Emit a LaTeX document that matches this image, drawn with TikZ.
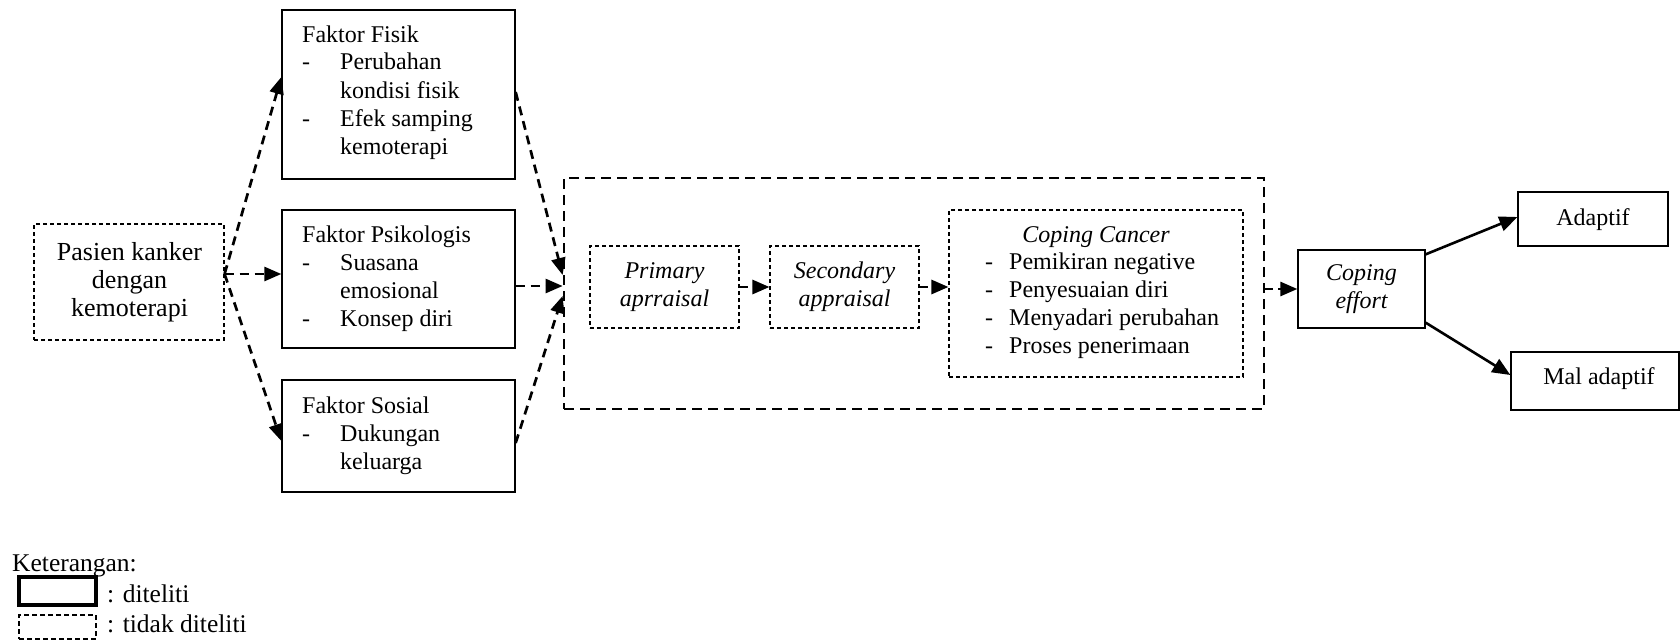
\documentclass[tikz,border=0pt]{standalone}
\usepackage{fontspec}
\setmainfont{Liberation Serif}
\usetikzlibrary{arrows.meta,fit,calc}
\begin{document}
\begin{tikzpicture}[x=1pt,y=-1pt,
  sbox/.style={draw, line width=1.3pt, inner sep=0pt},
  dbox/.style={draw, line width=1.1pt, dash pattern=on 4pt off 3pt, inner sep=0pt},
  bigbox/.style={draw, line width=2.8pt, dash pattern=on 10pt off 6pt, inner sep=0pt},
  txt/.style={font=\fontsize{24}{28}\selectfont, inner sep=0pt},
  itxt/.style={font=\fontsize{24}{28}\selectfont\itshape, inner sep=0pt},
  ltxt/.style={font=\fontsize{25.5}{30}\selectfont, inner sep=0pt},
  conn/.style={line width=2.7pt, dash pattern=on 9pt off 6pt, -{Triangle[length=17pt,width=14pt]}},
  sconn/.style={line width=2.6pt, -{Triangle[length=18pt,width=15pt]}},
]
\useasboundingbox (0,0) rectangle (1680,642);

% left column
\node[dbox, fit={(34,224) (224,340)}] (pasien) {};
\node[txt, font=\fontsize{26}{28}\selectfont, anchor=base] (pasientext) at (129.5,260) {\begin{tabular}[t]{@{}c@{}}Pasien kanker\\dengan\\kemoterapi\end{tabular}};

\node[sbox, fit={(282,10) (515,179)}] (fisik) {};
\node[txt, anchor=base west] (fisiktext) at (302,42) {\begin{tabular}[t]{@{}p{38pt}@{}l@{}}\multicolumn{2}{@{}l@{}}{Faktor Fisik}\\ - & Perubahan\\ & kondisi fisik\\ - & Efek samping\\ & kemoterapi\end{tabular}};

\node[sbox, fit={(282,210) (515,348)}] (psik) {};
\node[txt, anchor=base west] (psiktext) at (302,242) {\begin{tabular}[t]{@{}p{38pt}@{}l@{}}\multicolumn{2}{@{}l@{}}{Faktor Psikologis}\\ - & Suasana\\ & emosional\\ - & Konsep diri\end{tabular}};

\node[sbox, fit={(282,380) (515,492)}] (sosial) {};
\node[txt, anchor=base west] (sosialtext) at (302,413) {\begin{tabular}[t]{@{}p{38pt}@{}l@{}}\multicolumn{2}{@{}l@{}}{Faktor Sosial}\\ - & Dukungan\\ & keluarga\end{tabular}};

% middle group
\node[bigbox, fit={(564,178) (1264,409)}] (big) {};
\node[dbox, fit={(590,246) (739,328)}] (primary) {};
\node[itxt, align=center] (primarytext) at (primary.center) {Primary\\aprraisal};
\node[dbox, fit={(770,246) (919,328)}] (secondary) {};
\node[itxt, align=center] (secondarytext) at (secondary.center) {Secondary\\appraisal};
\node[dbox, fit={(949,210) (1243,377)}] (cancer) {};
\node[itxt, anchor=base] (cancertitle) at (1096,242) {Coping Cancer};
\node[txt, anchor=base west] (cancerlist) at (985,269) {\begin{tabular}[t]{@{}p{24pt}@{}l@{}} - & Pemikiran negative\\ - & Penyesuaian diri\\ - & Menyadari perubahan\\ - & Proses penerimaan\end{tabular}};

% right column
\node[sbox, fit={(1298,250) (1425,328)}] (effort) {};
\node[itxt, align=center] (efforttext) at (effort.center) {Coping\\effort};
\node[sbox, fit={(1518,192) (1668,246)}] (adaptif) {};
\node[txt, anchor=base] (adaptiftext) at (1593,225) {Adaptif};
\node[sbox, fit={(1511,352) (1679,410)}] (mal) {};
\node[txt, anchor=base] (maltext) at (1599,384) {Mal adaptif};

% connectors
\coordinate (ps) at ($(pasien.east)+(0,-8)$);
\draw[conn] (ps) -- ($(fisik.west)+(0,-17.5)$);
\draw[conn] (ps) -- ($(psik.west)+(0,-5)$);
\draw[conn] (ps) -- ($(sosial.west)+(0,5)$);
\draw[conn] ($(fisik.east)+(0,-2.5)$) -- ($(big.west)+(0,-18.5)$);
\draw[conn] ($(psik.east)+(0,7)$) -- ($(big.west)+(0,-7.5)$);
\draw[conn] ($(sosial.east)+(0,7)$) -- ($(big.west)+(0,2.5)$);
\draw[conn, dash pattern=on 8pt off 5pt] (primary.east) -- (secondary.west);
\draw[conn, dash pattern=on 8pt off 5pt] (secondary.east) -- (secondary.east -| cancer.west);
\draw[conn, dash pattern=on 8pt off 5pt] (big.east |- effort.west) -- (effort.west);
\draw[sconn] ($(effort.north east)+(0,5)$) -- ($(adaptif.west)+(0,-2)$);
\draw[sconn] ($(effort.south east)+(0,-6)$) -- ($(mal.west)+(0,-6)$);

% legend
\node[ltxt, anchor=base west] (ket) at (12,571) {Keterangan:};
\node[draw, line width=4.5pt, inner sep=0pt, fit={(19,577) (96,605)}] (lsolid) {};
\node[draw, line width=2pt, dash pattern=on 5pt off 3pt, inner sep=0pt, fit={(19,615) (96,639)}] (ldash) {};
\node[ltxt, anchor=base west] (ldtext) at (107,602) {: diteliti};
\node[ltxt, anchor=base west] (lttext) at (107,632) {: tidak diteliti};
\end{tikzpicture}
\end{document}
